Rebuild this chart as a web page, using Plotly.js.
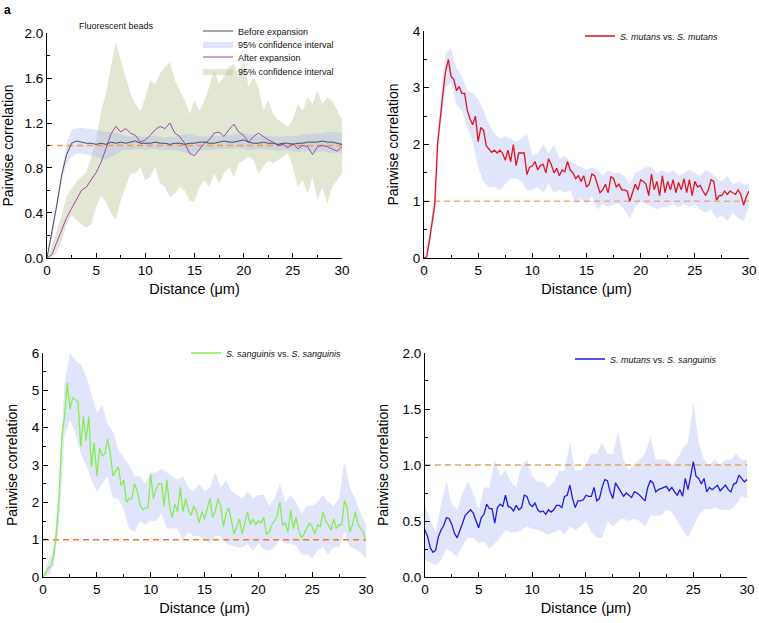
<!DOCTYPE html>
<html>
<head>
<meta charset="utf-8">
<script src="https://cdn.plot.ly/plotly-3.0.1.min.js"></script>
<style>
  html, body { margin: 0; padding: 0; background: #fff; }
  #myDiv { width: 759px; height: 623px; }
</style>
</head>
<body>
<div id="myDiv"></div>
<script>
// distance grids (um)
var distHalf = [0, 0.5, 1, 1.5, 2, 2.5, 3, 3.5, 4, 4.5, 5, 5.5, 6, 6.5, 7, 7.5, 8, 8.5, 9, 9.5,
  10, 10.5, 11, 11.5, 12, 12.5, 13, 13.5, 14, 14.5, 15, 15.5, 16, 16.5, 17, 17.5, 18, 18.5, 19, 19.5,
  20, 20.5, 21, 21.5, 22, 22.5, 23, 23.5, 24, 24.5, 25, 25.5, 26, 26.5, 27, 27.5, 28, 28.5, 29, 29.5, 30];

var distQuarter = [0, 0.25, 0.5, 0.75, 1, 1.25, 1.5, 1.75, 2, 2.25, 2.5, 2.75, 3, 3.25, 3.5, 3.75, 4, 4.25, 4.5, 4.75,
  5, 5.25, 5.5, 5.75, 6, 6.25, 6.5, 6.75, 7, 7.25, 7.5, 7.75, 8, 8.25, 8.5, 8.75, 9, 9.25, 9.5, 9.75,
  10, 10.25, 10.5, 10.75, 11, 11.25, 11.5, 11.75, 12, 12.25, 12.5, 12.75, 13, 13.25, 13.5, 13.75, 14, 14.25, 14.5, 14.75,
  15, 15.25, 15.5, 15.75, 16, 16.25, 16.5, 16.75, 17, 17.25, 17.5, 17.75, 18, 18.25, 18.5, 18.75, 19, 19.25, 19.5, 19.75,
  20, 20.25, 20.5, 20.75, 21, 21.25, 21.5, 21.75, 22, 22.25, 22.5, 22.75, 23, 23.25, 23.5, 23.75, 24, 24.25, 24.5, 24.75,
  25, 25.25, 25.5, 25.75, 26, 26.25, 26.5, 26.75, 27, 27.25, 27.5, 27.75, 28, 28.25, 28.5, 28.75, 29, 29.25, 29.5, 29.75, 30];

// reference level (random distribution)
var refX = [0, 30];
var refY = [1, 1];

// panel a: fluorescent beads
var beadsBefore = [0, 0.22, 0.47, 0.74, 0.92, 1.02, 1.04, 1.03, 1.02, 1.02,
  1.01, 1.02, 1.01, 1.03, 1.02, 1.03, 1.02, 1.03, 1.04, 1.02,
  1.02, 1.02, 1.03, 1.02, 1.02, 1.01, 1.02, 1.02, 1.01, 1.02,
  1.02, 1.03, 1.03, 1.02, 1.02, 1.03, 1.04, 1.03, 1.03, 1.04,
  1.05, 1.03, 1.02, 1.02, 1.03, 1.02, 1.02, 1.01, 1.02, 1.02,
  1.01, 1.02, 1.02, 1.03, 1.03, 1.03, 1.04, 1.03, 1.03, 1.02, 1.01];
var beadsBeforeLo = [0, 0.17, 0.42, 0.68, 0.84, 0.9, 0.93, 0.93, 0.92, 0.91,
  0.9, 0.88, 0.88, 0.9, 0.92, 0.95, 0.96, 0.96, 0.97, 0.97,
  0.96, 0.97, 0.97, 0.96, 0.96, 0.96, 0.96, 0.95, 0.94, 0.93,
  0.94, 0.95, 0.96, 0.96, 0.96, 0.97, 0.97, 0.97, 0.97, 0.98,
  0.97, 0.96, 0.96, 0.97, 0.97, 0.96, 0.96, 0.95, 0.96, 0.96,
  0.95, 0.94, 0.95, 0.95, 0.95, 0.94, 0.95, 0.94, 0.93, 0.94, 0.93];
var beadsBeforeHi = [0.02, 0.27, 0.53, 0.8, 1.02, 1.14, 1.15, 1.16, 1.15, 1.15,
  1.14, 1.13, 1.12, 1.12, 1.11, 1.1, 1.09, 1.08, 1.09, 1.08,
  1.08, 1.08, 1.09, 1.08, 1.07, 1.08, 1.08, 1.09, 1.1, 1.1,
  1.09, 1.08, 1.08, 1.08, 1.09, 1.08, 1.09, 1.09, 1.1, 1.1,
  1.11, 1.1, 1.09, 1.08, 1.08, 1.09, 1.08, 1.08, 1.08, 1.09,
  1.08, 1.09, 1.1, 1.1, 1.1, 1.11, 1.11, 1.12, 1.12, 1.12, 1.11];
var beadsAfter = [0, 0.03, 0.14, 0.25, 0.36, 0.44, 0.52, 0.6, 0.63, 0.7,
  0.76, 0.85, 0.97, 1.1, 1.17, 1.12, 1.15, 1.11, 1.09, 1.03,
  1.05, 1.09, 1.14, 1.17, 1.15, 1.2, 1.11, 1.08, 1.02, 0.93,
  0.91, 0.97, 1.02, 1.05, 1.11, 1.12, 1.08, 1.14, 1.19, 1.12,
  1.09, 1.03, 1.08, 1.11, 1.08, 1.05, 1.03, 1.0, 1.01, 0.98,
  1.02, 0.97, 1.0, 0.99, 0.92, 0.99, 1.0, 0.99, 0.97, 0.95, 0.99];
var beadsAfterLo = [0, 0, 0.05, 0.15, 0.3, 0.38, 0.34, 0.3, 0.27, 0.3,
  0.45, 0.55, 0.5, 0.4, 0.34, 0.51, 0.63, 0.75, 0.75, 0.81,
  0.69, 0.72, 0.81, 0.66, 0.63, 0.54, 0.57, 0.63, 0.6, 0.51,
  0.5, 0.63, 0.69, 0.63, 0.75, 0.66, 0.75, 0.81, 0.72, 0.84,
  0.87, 0.9, 0.87, 0.75, 0.81, 0.87, 0.84, 0.87, 0.9, 0.93,
  0.81, 0.63, 0.69, 0.57, 0.72, 0.51, 0.63, 0.48, 0.63, 0.69, 0.75];
var beadsAfterHi = [0, 0.1, 0.25, 0.38, 0.55, 0.62, 0.68, 0.72, 0.76, 0.9,
  1.05, 1.31, 1.46, 1.7, 1.92, 1.76, 1.61, 1.46, 1.37, 1.31,
  1.43, 1.58, 1.55, 1.64, 1.7, 1.74, 1.58, 1.49, 1.4, 1.28,
  1.4, 1.31, 1.4, 1.52, 1.67, 1.55, 1.61, 1.7, 1.73, 1.61,
  1.77, 1.52, 1.61, 1.52, 1.31, 1.4, 1.28, 1.23, 1.2, 1.17,
  1.23, 1.37, 1.31, 1.43, 1.37, 1.49, 1.37, 1.43, 1.4, 1.31, 1.23];

// panel b: S. mutans vs S. mutans
var smSm = [0, 0.02, 0.3, 0.6, 0.95, 2.0, 2.5, 2.9, 3.3, 3.5,
  3.2, 3.15, 2.95, 3.02, 2.9, 2.9, 2.6, 2.45, 2.35, 2.5,
  2.05, 2.3, 2.25, 1.98, 1.92, 1.86, 1.9, 1.85, 1.9, 1.85,
  1.72, 1.9, 1.7, 2.0, 1.63, 1.85, 1.85, 1.85, 1.47, 1.6,
  1.62, 1.7, 1.55, 1.63, 1.65, 1.5, 1.75, 1.65, 1.5, 1.58,
  1.45, 1.55, 1.52, 1.7, 1.55, 1.5, 1.4, 1.45, 1.35, 1.45,
  1.25, 1.3, 1.48, 1.45, 1.3, 1.15, 1.2, 1.3, 1.15, 1.43,
  1.4, 1.25, 1.3, 1.2, 1.2, 1.18, 1.0, 1.15, 1.3, 1.2,
  1.38, 1.35, 1.3, 1.1, 1.48, 1.2, 1.35, 1.1, 1.45, 1.15,
  1.35, 1.2, 1.38, 1.15, 1.33, 1.2, 1.4, 1.15, 1.38, 1.1,
  1.35, 1.25, 1.28, 1.18, 1.1, 1.2, 1.38, 1.35, 1.02, 1.1,
  1.1, 1.18, 1.12, 1.18, 1.15, 1.12, 1.2, 1.12, 0.93, 1.08, 1.18];
var smSmLo = [0, 0.2, 0.8, 2.3, 3.0, 3.1, 2.7, 2.6, 2.3, 2.05,
  1.6, 1.35, 1.25, 1.25, 1.2, 1.3, 1.4, 1.4, 1.35, 1.2,
  1.2, 1.25, 1.15, 1.3, 1.15, 1.2, 1.15, 1.2, 0.95, 1.05,
  0.95, 1.1, 0.85, 0.95, 0.9, 0.95, 0.95, 0.85, 0.7, 0.9,
  1.0, 0.95, 0.9, 0.85, 0.9, 0.9, 0.95, 0.9, 0.95, 0.9,
  0.95, 0.85, 0.8, 0.85, 0.7, 0.75, 0.65, 0.8, 0.7, 0.65, 0.9];
var smSmHi = [0.05, 0.45, 1.2, 2.8, 3.6, 3.7, 3.35, 3.2, 2.95, 2.9,
  2.8, 2.6, 2.35, 2.2, 2.1, 2.15, 2.1, 2.05, 2.1, 2.2,
  1.8, 1.85, 2.0, 1.85, 2.0, 1.75, 1.8, 1.7, 1.65, 1.6,
  1.55, 1.6, 1.55, 1.45, 1.55, 1.5, 1.5, 1.45, 1.3, 1.5,
  1.55, 1.6, 1.6, 1.5, 1.55, 1.5, 1.55, 1.45, 1.5, 1.55,
  1.5, 1.45, 1.55, 1.5, 1.4, 1.35, 1.45, 1.3, 1.35, 1.3, 1.3];

// panel c: S. sanguinis vs S. sanguinis
var ssSs = [0, 0.1, 0.25, 0.3, 0.6, 1.2, 2.2, 3.8, 4.3, 5.2,
  4.5, 4.8, 4.75, 4.7, 3.5, 4.3, 3.65, 4.3, 2.95, 3.6,
  2.7, 3.45, 3.25, 3.3, 3.7, 3.3, 2.7, 2.85, 2.95, 2.45,
  2.6, 2.0, 2.1, 2.1, 2.5, 2.3, 1.95, 1.8, 1.85, 1.85,
  2.75, 2.1, 2.35, 2.5, 2.5, 1.9, 2.6, 1.9, 1.6, 1.95,
  1.75, 2.4, 1.75, 2.1, 1.8, 1.65, 1.9, 1.75, 1.45, 1.75,
  1.55, 1.8, 2.1, 1.6, 1.75, 2.1, 1.9, 1.35, 1.7, 1.85,
  1.5, 1.15, 1.35, 1.55, 1.15, 1.45, 1.75, 1.4, 1.55, 1.4,
  1.5, 1.45, 1.6, 1.15, 1.2, 1.4, 1.5, 1.65, 2.0, 1.4,
  1.45, 1.2, 1.8, 1.3, 1.6, 1.25, 1.05, 1.15, 1.3, 1.45,
  1.35, 1.15, 1.4, 1.35, 1.75, 1.5, 1.4, 1.25, 1.55, 1.3,
  1.4, 1.4, 2.05, 1.85, 1.2, 1.4, 1.75, 1.4, 1.3, 1.2, 0.95];
var ssSsLo = [0, 0.05, 0.3, 1.5, 3.8, 4.2, 3.9, 3.3, 3.0, 2.6,
  2.3, 2.5, 2.7, 2.1, 2.1, 1.8, 1.3, 1.2, 1.5, 1.4,
  1.5, 1.5, 1.7, 1.3, 1.3, 1.3, 1.0, 1.2, 1.1, 1.1,
  1.0, 0.9, 1.1, 1.1, 0.9, 0.85, 0.8, 0.8, 0.9, 0.7,
  0.9, 0.75, 0.7, 0.8, 1.0, 0.9, 0.9, 0.85, 0.6, 0.6,
  0.5, 0.7, 0.8, 0.6, 0.8, 0.8, 1.2, 0.8, 0.75, 0.65, 0.5];
var ssSsHi = [0.05, 0.4, 0.8, 2.5, 5.2, 6.0, 5.8, 5.7, 5.4, 4.9,
  4.4, 4.6, 4.1, 3.9, 3.4, 3.2, 3.0, 2.7, 2.7, 2.5,
  2.8, 2.8, 2.9, 2.8, 2.7, 2.6, 2.7, 2.4, 2.3, 2.5,
  2.3, 2.4, 2.8, 2.4, 2.6, 2.3, 2.2, 2.1, 2.3, 2.1,
  2.2, 2.2, 1.9, 2.1, 2.5, 2.0, 2.2, 2.0, 1.7, 1.9,
  1.9, 2.0, 2.2, 2.0, 1.9, 2.1, 3.1, 2.4, 2.1, 1.7, 1.4];

// panel d: S. mutans vs S. sanguinis
var smSs = [0.42, 0.36, 0.26, 0.22, 0.24, 0.36, 0.42, 0.46, 0.53, 0.52,
  0.47, 0.39, 0.35, 0.41, 0.48, 0.55, 0.58, 0.6, 0.57, 0.5,
  0.44, 0.53, 0.56, 0.65, 0.61, 0.61, 0.48, 0.62, 0.65, 0.63,
  0.73, 0.63, 0.62, 0.59, 0.64, 0.6, 0.62, 0.73, 0.72, 0.65,
  0.63, 0.66, 0.6, 0.58, 0.59, 0.56, 0.6, 0.58, 0.6, 0.64,
  0.64, 0.62, 0.72, 0.73, 0.82, 0.7, 0.62, 0.68, 0.68, 0.69,
  0.73, 0.72, 0.72, 0.8, 0.68, 0.7, 0.8, 0.87, 0.86, 0.76,
  0.7, 0.84, 0.8, 0.75, 0.72, 0.75, 0.73, 0.71, 0.76, 0.75,
  0.73, 0.7, 0.68, 0.8, 0.86, 0.84, 0.76, 0.78, 0.79, 0.8,
  0.81, 0.77, 0.8, 0.76, 0.73, 0.78, 0.72, 0.88, 0.78, 0.9,
  1.03, 0.9, 0.88, 0.83, 0.88, 0.76, 0.8, 0.78, 0.8, 0.82,
  0.77, 0.8, 0.82, 0.78, 0.76, 0.83, 0.84, 0.91, 0.88, 0.85, 0.87];
var smSsLo = [0.15, 0.13, 0.1, 0.15, 0.25, 0.22, 0.18, 0.28, 0.35, 0.35,
  0.3, 0.32, 0.25, 0.3, 0.35, 0.42, 0.4, 0.4, 0.42, 0.45,
  0.43, 0.42, 0.4, 0.38, 0.4, 0.42, 0.38, 0.45, 0.42, 0.45,
  0.5, 0.4, 0.35, 0.35, 0.5, 0.45, 0.5, 0.52, 0.5, 0.52,
  0.5, 0.45, 0.55, 0.55, 0.55, 0.6, 0.58, 0.5, 0.42, 0.35,
  0.45, 0.55, 0.6, 0.6, 0.62, 0.6, 0.6, 0.6, 0.65, 0.72, 0.7];
var smSsHi = [0.65, 0.5, 0.4, 0.65, 0.85, 0.65, 0.6, 0.75, 0.85, 0.75,
  0.6, 0.8, 0.8, 1.05, 0.9, 0.95, 0.85, 0.8, 1.0, 1.05,
  0.9, 0.85, 0.85, 0.8, 0.85, 0.95, 0.95, 1.2, 0.95, 0.95,
  1.0, 1.1, 1.1, 1.2, 1.1, 1.1, 1.3, 1.05, 0.95, 1.0,
  1.05, 1.1, 1.25, 1.05, 1.05, 1.05, 1.0, 1.05, 1.15, 1.2,
  1.57, 1.2, 1.05, 1.0, 1.05, 1.0, 1.05, 1.05, 1.1, 1.05, 1.05];

var FONT = 'Liberation Sans, Arial, sans-serif';
var bandBlue = 'rgba(150,165,240,0.29)';
var bandGreen = 'rgba(170,185,130,0.34)';

function band(xs, lo, hi, xa, ya, color, name, legend, rank) {
  var upper = {x: xs, y: hi, xaxis: xa, yaxis: ya, type: 'scatter', mode: 'lines',
    line: {width: 0, color: color}, showlegend: false, hoverinfo: 'skip'};
  var lower = {x: xs, y: lo, xaxis: xa, yaxis: ya, type: 'scatter', mode: 'lines',
    line: {width: 0, color: color}, fill: 'tonexty', fillcolor: color,
    name: name, showlegend: !!name, legend: legend, legendrank: rank, hoverinfo: 'skip'};
  return [upper, lower];
}

function refLine(xa, ya, color) {
  return {x: refX, y: refY, xaxis: xa, yaxis: ya, type: 'scatter', mode: 'lines',
    line: {color: color, width: 1.5, dash: '6px,4px'}, showlegend: false, hoverinfo: 'skip'};
}

var data = [];
// panel a
data = data.concat(band(distHalf, beadsAfterLo, beadsAfterHi, 'x', 'y', bandGreen, '95% confidence interval', 'legend4', 4));
data = data.concat(band(distHalf, beadsBeforeLo, beadsBeforeHi, 'x', 'y', bandBlue, '95% confidence interval', 'legend2', 2));
data.push(refLine('x', 'y', '#f39a4c'));
data.push({x: distHalf, y: beadsAfter, xaxis: 'x', yaxis: 'y', type: 'scatter', mode: 'lines',
  line: {color: '#9a44b0', width: 1}, name: 'After expansion', legend: 'legend3'});
data.push({x: distHalf, y: beadsBefore, xaxis: 'x', yaxis: 'y', type: 'scatter', mode: 'lines',
  line: {color: '#4a4a55', width: 1}, name: 'Before expansion', legend: 'legend'});
// panel b
data = data.concat(band(distHalf, smSmLo, smSmHi, 'x2', 'y2', bandBlue, null, 'legend5', 1));
data.push(refLine('x2', 'y2', '#f4ad6e'));
data.push({x: distQuarter, y: smSm, xaxis: 'x2', yaxis: 'y2', type: 'scatter', mode: 'lines',
  line: {color: '#e0141c', width: 1.3}, name: '<i>S. mutans</i> vs. <i>S. mutans</i>', legend: 'legend5'});
// panel c
data = data.concat(band(distHalf, ssSsLo, ssSsHi, 'x3', 'y3', bandBlue, null, 'legend6', 1));
data.push(refLine('x3', 'y3', '#f0782a'));
data.push({x: distQuarter, y: ssSs, xaxis: 'x3', yaxis: 'y3', type: 'scatter', mode: 'lines',
  line: {color: '#86ec52', width: 1.3}, name: '<i>S. sanguinis</i> vs. <i>S. sanguinis</i>', legend: 'legend6'});
// panel d
data = data.concat(band(distHalf, smSsLo, smSsHi, 'x4', 'y4', bandBlue, null, 'legend7', 1));
data.push(refLine('x4', 'y4', '#e8a060'));
data.push({x: distQuarter, y: smSs, xaxis: 'x4', yaxis: 'y4', type: 'scatter', mode: 'lines',
  line: {color: '#1c1ce8', width: 1.3}, name: '<i>S. mutans</i> vs. <i>S. sanguinis</i>', legend: 'legend7'});

function xAxis(domain, anchor) {
  return {
    domain: domain, anchor: anchor, range: [0, 30], tickmode: 'linear', tick0: 0, dtick: 5,
    showgrid: false, zeroline: false, showline: true, linecolor: '#000', linewidth: 1,
    ticks: 'inside', ticklen: 5, tickwidth: 1, tickcolor: '#000',
    minor: {ticks: 'inside', ticklen: 3, tickwidth: 1, tickcolor: '#000', dtick: 2.5, showgrid: false},
    tickfont: {family: FONT, size: 13.5, color: '#000'},
    title: {text: 'Distance (\u03bcm)', font: {family: FONT, size: 14.5, color: '#000'}, standoff: 6}
  };
}
function yAxis(domain, anchor, top, step, fmt) {
  return {
    domain: domain, anchor: anchor, range: [0, top], tickmode: 'linear', tick0: 0, dtick: step,
    tickformat: fmt,
    showgrid: false, zeroline: false, showline: true, linecolor: '#000', linewidth: 1,
    ticks: 'inside', ticklen: 5, tickwidth: 1, tickcolor: '#000',
    minor: {ticks: 'inside', ticklen: 3, tickwidth: 1, tickcolor: '#000', dtick: step / 2, showgrid: false},
    tickfont: {family: FONT, size: 13.5, color: '#000'},
    title: {text: 'Pairwise correlation', font: {family: FONT, size: 14, color: '#000'}, standoff: 10}
  };
}

function legendAt(xpx, ypx) {
  return {x: xpx / 759, y: 1 - ypx / 623, xanchor: 'left', yanchor: 'middle',
    bgcolor: 'rgba(0,0,0,0)', borderwidth: 0,
    font: {family: FONT, size: 9, color: '#111'}};
}

var layout = {
  width: 759, height: 623,
  margin: {l: 0, r: 0, t: 0, b: 0},
  paper_bgcolor: '#fff', plot_bgcolor: 'rgba(0,0,0,0)',
  hovermode: false,
  xaxis: xAxis([0.0619, 0.4506], 'y'),
  yaxis: yAxis([0.5859, 0.9470], 'x', 2, 0.4, '.1f'),
  xaxis2: xAxis([0.5586, 0.9868], 'y2'),
  yaxis2: yAxis([0.5859, 0.9502], 'x2', 4, 1, 'd'),
  xaxis3: xAxis([0.0567, 0.4822], 'y3'),
  yaxis3: yAxis([0.0738, 0.4334], 'x3', 6, 1, 'd'),
  xaxis4: xAxis([0.5599, 0.9842], 'y4'),
  yaxis4: yAxis([0.0738, 0.4334], 'x4', 2, 0.5, '.1f'),
  legend: legendAt(198, 31),
  legend2: legendAt(198, 44),
  legend3: legendAt(198, 57),
  legend4: legendAt(198, 71),
  legend5: legendAt(580, 36),
  legend6: legendAt(186, 353),
  legend7: legendAt(570, 359),
  annotations: [
    {text: 'Fluorescent beads', xref: 'paper', yref: 'paper', x: 77 / 759, y: 1 - 26 / 623,
      xanchor: 'left', yanchor: 'middle', showarrow: false, font: {family: FONT, size: 9, color: '#111'}},
    {text: '<b>a</b>', xref: 'paper', yref: 'paper', x: 2 / 759, y: 1 - 1 / 623,
      xanchor: 'left', yanchor: 'top', showarrow: false, font: {family: FONT, size: 12, color: '#000'}}
  ]
};

Plotly.newPlot('myDiv', data, layout, {staticPlot: true, displayModeBar: false});
</script>
</body>
</html>
